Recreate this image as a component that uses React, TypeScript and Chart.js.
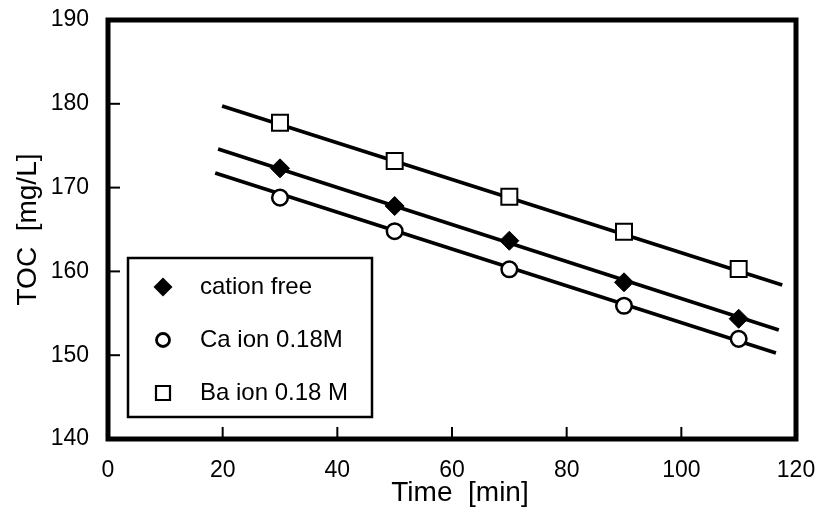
import React, { useEffect, useRef } from "react";
import { Chart, registerables } from "chart.js";

Chart.register(...registerables);

// Sampling times [min]
const times = [30, 50, 70, 90, 110];

// Measured TOC [mg/L]
const cationFree = [172.3, 167.8, 163.66, 158.7, 154.35];
const caIon = [168.8, 164.8, 160.25, 155.9, 151.95];
const baIon = [177.74, 173.17, 168.91, 164.74, 160.29];

// Linear fits (end points)
const cationFreeFitX = [19.2, 117.0];
const cationFreeFitY = [174.6, 153.0];
const caIonFitX = [18.7, 116.5];
const caIonFitY = [171.74, 150.26];
const baIonFitX = [19.9, 117.6];
const baIonFitY = [179.74, 158.38];

const seriesLabels = ["cation free", "Ca ion 0.18M", "Ba ion 0.18 M"];

const xTitle = "Time  [min]";
const yTitle = "TOC  [mg/L]";

const FONT = '"Liberation Sans", Arial, Helvetica, sans-serif';

const pts = (xs: number[], ys: number[]) => xs.map((x, i) => ({ x, y: ys[i] }));

// Thick frame around the plot area, short inward tick marks and the x-axis title
const framePlugin = {
  id: "frame",
  afterDatasetsDraw(chart: any) {
    const { ctx, chartArea, scales } = chart;
    const { left, top, right, bottom } = chartArea;
    const xs = scales.x;
    const ys = scales.y;
    ctx.save();
    ctx.strokeStyle = "#000";
    ctx.lineWidth = 2;
    xs.ticks.forEach((t: any) => {
      if (t.value <= xs.min || t.value >= xs.max) return;
      const px = xs.getPixelForValue(t.value);
      ctx.beginPath();
      ctx.moveTo(px, bottom);
      ctx.lineTo(px, bottom - 12);
      ctx.stroke();
    });
    ys.ticks.forEach((t: any) => {
      if (t.value <= ys.min || t.value >= ys.max) return;
      const py = ys.getPixelForValue(t.value);
      ctx.beginPath();
      ctx.moveTo(left, py);
      ctx.lineTo(left + 12, py);
      ctx.stroke();
    });
    ctx.lineWidth = 5;
    ctx.strokeRect(left, top, right - left, bottom - top);

    ctx.fillStyle = "#000";
    ctx.font = `28px ${FONT}`;
    ctx.textAlign = "center";
    ctx.textBaseline = "middle";
    ctx.fillText(xTitle, (left + right) / 2 + 8, bottom + 54);
    ctx.restore();
  },
};

// Boxed legend inside the plot area
const boxLegendPlugin = {
  id: "boxLegend",
  afterDraw(chart: any) {
    const { ctx, chartArea } = chart;
    const boxL = chartArea.left + 20;
    const boxT = chartArea.top + 238;
    const boxW = 244;
    const boxH = 159;
    ctx.save();
    ctx.fillStyle = "#fff";
    ctx.fillRect(boxL, boxT, boxW, boxH);
    ctx.strokeStyle = "#000";
    ctx.lineWidth = 2.5;
    ctx.strokeRect(boxL, boxT, boxW, boxH);

    const rows = [29, 82, 135];
    const symX = boxL + 35;
    const textX = boxL + 72;
    chart.data.datasets.forEach((ds: any, i: number) => {
      if (i > 2) return;
      const cy = boxT + rows[i];
      ctx.lineWidth = 2;
      ctx.strokeStyle = "#000";
      ctx.beginPath();
      if (ds.pointStyle === "rectRot") {
        const r = 9.5;
        ctx.moveTo(symX - r, cy);
        ctx.lineTo(symX, cy - r);
        ctx.lineTo(symX + r, cy);
        ctx.lineTo(symX, cy + r);
        ctx.closePath();
        ctx.fillStyle = "#000";
        ctx.fill();
      } else if (ds.pointStyle === "circle") {
        ctx.lineWidth = 2.8;
        ctx.arc(symX, cy, 6.5, 0, Math.PI * 2);
        ctx.fillStyle = "#fff";
        ctx.fill();
        ctx.stroke();
      } else {
        ctx.lineWidth = 2.2;
        ctx.rect(symX - 7, cy - 7, 14, 14);
        ctx.fillStyle = "#fff";
        ctx.fill();
        ctx.stroke();
      }
      ctx.fillStyle = "#000";
      ctx.font = `24px ${FONT}`;
      ctx.textAlign = "left";
      ctx.textBaseline = "middle";
      ctx.fillText(ds.label, textX, cy);
    });
    ctx.restore();
  },
};

const noScalePadding = (scale: any) => {
  scale.paddingLeft = 0;
  scale.paddingRight = 0;
  scale.paddingTop = 0;
  scale.paddingBottom = 0;
};

export default function App() {
  const canvasRef = useRef<HTMLCanvasElement | null>(null);

  useEffect(() => {
    const canvas = canvasRef.current;
    if (!canvas) return;

    const fitLine = (xs: number[], ys: number[]) => ({
      label: "",
      data: pts(xs, ys),
      showLine: true,
      borderColor: "#000",
      borderWidth: 3.8,
      pointRadius: 0,
      fill: false,
      order: 1,
    });

    const chart = new Chart(canvas, {
      type: "scatter",
      data: {
        datasets: [
          {
            label: seriesLabels[0],
            data: pts(times, cationFree),
            pointStyle: "rectRot",
            pointRadius: 9.5,
            backgroundColor: "#000",
            borderColor: "#000",
            borderWidth: 1,
            order: 0,
          },
          {
            label: seriesLabels[1],
            data: pts(times, caIon),
            pointStyle: "circle",
            pointRadius: 7.8,
            backgroundColor: "#fff",
            borderColor: "#000",
            borderWidth: 2.5,
            order: 0,
          },
          {
            label: seriesLabels[2],
            data: pts(times, baIon),
            pointStyle: "rect",
            pointRadius: 11.3,
            backgroundColor: "#fff",
            borderColor: "#000",
            borderWidth: 2,
            order: 0,
          },
          fitLine(cationFreeFitX, cationFreeFitY),
          fitLine(caIonFitX, caIonFitY),
          fitLine(baIonFitX, baIonFitY),
        ] as any,
      },
      options: {
        responsive: false,
        animation: false,
        events: [],
        layout: { padding: { top: 20, right: 24, left: 0, bottom: 0 } },
        plugins: {
          legend: { display: false },
          tooltip: { enabled: false },
        },
        scales: {
          x: {
            type: "linear",
            min: 0,
            max: 120,
            ticks: {
              stepSize: 20,
              color: "#000",
              padding: 18,
              font: { family: FONT, size: 23 },
            },
            grid: { display: false, drawTicks: false },
            border: { display: false },
            title: { display: false },
            afterFit(scale: any) {
              scale.height = 86;
              noScalePadding(scale);
            },
          },
          y: {
            type: "linear",
            min: 140,
            max: 190,
            ticks: {
              stepSize: 10,
              color: "#000",
              padding: 19,
              font: { family: FONT, size: 23 },
            },
            grid: { display: false, drawTicks: false },
            border: { display: false },
            title: {
              display: true,
              text: yTitle,
              color: "#000",
              font: { family: FONT, size: 28 },
              padding: { top: 11, bottom: 0 },
            },
            afterFit(scale: any) {
              scale.width = 108;
              noScalePadding(scale);
            },
          },
        },
      } as any,
      plugins: [framePlugin, boxLegendPlugin],
    });

    return () => chart.destroy();
  }, []);

  return (
    <div style={{ position: "absolute", left: 0, top: 0, width: 820, height: 525, background: "#fff" }}>
      <canvas ref={canvasRef} width={820} height={525} />
    </div>
  );
}
